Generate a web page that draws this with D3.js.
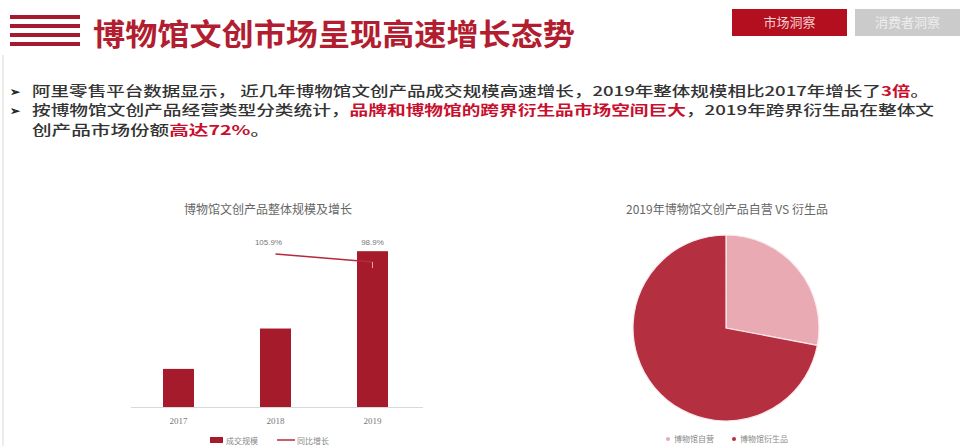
<!DOCTYPE html>
<html><head><meta charset="utf-8">
<script src="https://cdn.jsdelivr.net/npm/d3@7/dist/d3.min.js"></script>
<style>
html,body{margin:0;padding:0;background:#fff;}
svg{display:block;font-family:"Noto Sans CJK SC","Noto Sans",sans-serif;}
</style></head>
<body>
<svg id="c" width="960" height="446"></svg>
<script>
// ---- data ----
const pageTitle = "博物馆文创市场呈现高速增长态势";
const tabs = ["市场洞察", "消费者洞察"];
const bullet1 = [["阿里零售平台数据显示， 近几年博物馆文创产品成交规模高速增长，2019年整体规模相比2017年增长了", false], ["3倍", true], ["。", false]];
const bullet2 = [["按博物馆文创产品经营类型分类统计，", false], ["品牌和博物馆的跨界衍生品市场空间巨大", true], ["，2019年跨界衍生品在整体文", false]];
const bullet3 = [["创产品市场份额", false], ["高达72%", true], ["。", false]];

const barTitle = "博物馆文创产品整体规模及增长";
const years = ["2017", "2018", "2019"];
const scaleValues = [100, 206, 409];       // 成交规模 (index, estimated)
const growthValues = [null, 105.9, 98.9];  // 同比增长 %
const barLegend = ["成交规模", "同比增长"];

const pieTitle = "2019年博物馆文创产品自营 VS 衍生品";
const pieLabels = ["博物馆自营", "博物馆衍生品"];
const pieValues = [28, 72];

// ---- drawing ----
const svg = d3.select("#c");
const HL = "#c8102e", TXT = "#333333";

// faint left border
svg.append("line").attr("x1", 3).attr("x2", 3).attr("y1", 55).attr("y2", 446)
  .attr("stroke", "#e6e6e6").attr("stroke-width", 1.5);

// header stripes
[17, 26, 35, 44].forEach(y => svg.append("rect").attr("x", 10).attr("y", y - 2)
  .attr("width", 70).attr("height", 4).attr("fill", "#a51a2e"));
svg.append("text").attr("x", 93).attr("y", 45).text(pageTitle)
  .attr("font-size", 30).attr("font-weight", "bold").attr("fill", "#b21d30")
  .attr("textLength", 482).attr("lengthAdjust", "spacingAndGlyphs");

// tabs
const tabX = [732, 855], tabW = [115, 105], tabFill = ["#b40f1f", "#cbcbcb"];
tabs.forEach((t, i) => {
  svg.append("rect").attr("x", tabX[i]).attr("y", 9).attr("width", tabW[i]).attr("height", 27).attr("fill", tabFill[i]);
  svg.append("text").attr("x", tabX[i] + tabW[i] / 2).attr("y", 27).attr("text-anchor", "middle")
    .attr("font-size", 13).attr("fill", i === 0 ? "#f3d0d0" : "#eeeeee").text(t);
});

// bullets
function para(parts, x, y, len) {
  const t = svg.append("text").attr("x", x).attr("y", y).attr("font-size", 13.5).attr("fill", TXT)
    .attr("font-weight", 500);
  if (len) t.attr("textLength", len).attr("lengthAdjust", "spacingAndGlyphs");
  parts.forEach(([s, h]) => t.append("tspan").text(s)
    .attr("fill", h ? HL : TXT).attr("font-weight", h ? "bold" : 500));
}
[96, 115].forEach(y => svg.append("text").attr("x", 10).attr("y", y).attr("font-size", 12)
  .attr("font-weight", "bold").attr("fill", "#222").text("➢"));
para(bullet1, 32, 96, 897);
para(bullet2, 32, 115, 902);
para(bullet3, 32, 135, 238);

// ---- bar + line chart ----
svg.append("text").attr("x", 268).attr("y", 214).attr("text-anchor", "middle")
  .attr("font-size", 12).attr("fill", "#666").text(barTitle);

const x = d3.scalePoint().domain(years).range([130, 421]).padding(0.5);
const y = d3.scaleLinear().domain([0, 420]).range([407, 247]);
const yG = d3.scaleLinear().domain([-28, 140]).range([407, 215]);
const bw = 31;

svg.append("line").attr("x1", 131).attr("x2", 423).attr("y1", 407.5).attr("y2", 407.5)
  .attr("stroke", "#d9d9d9");

svg.selectAll(".bar").data(years).join("rect").attr("class", "bar")
  .attr("x", d => x(d) - bw / 2).attr("width", bw)
  .attr("y", (d, i) => y(scaleValues[i])).attr("height", (d, i) => y(0) - y(scaleValues[i]))
  .attr("fill", "#a61b2b");

svg.selectAll(".yr").data(years).join("text").attr("class", "yr")
  .attr("x", d => x(d)).attr("y", 424).attr("text-anchor", "middle")
  .attr("font-size", 9).attr("font-family", "'Liberation Serif',serif").attr("fill", "#777").text(d => d);

const gPts = years.map((d, i) => ({ d, v: growthValues[i] })).filter(p => p.v != null);
svg.append("path").datum(gPts)
  .attr("d", d3.line().x(p => x(p.d)).y(p => yG(p.v)))
  .attr("fill", "none").attr("stroke", "#b52a3c").attr("stroke-width", 1.5);
const last = gPts[gPts.length - 1];
svg.append("path").attr("d", `M${x(last.d)},${yG(last.v)}v6`).attr("stroke", "#e7a5ae").attr("stroke-width", 1);

svg.selectAll(".gl").data(gPts).join("text").attr("class", "gl")
  .attr("x", (p, i) => x(p.d) - (i === 0 ? 7 : 0)).attr("y", 245).attr("text-anchor", "middle")
  .attr("font-size", 8).attr("font-family", "'Liberation Sans',sans-serif").attr("fill", "#777")
  .text(p => p.v.toFixed(1) + "%");

// bar legend
svg.append("rect").attr("x", 210).attr("y", 437).attr("width", 13).attr("height", 6).attr("fill", "#a61b2b");
svg.append("text").attr("x", 226).attr("y", 443.5).attr("font-size", 8).attr("fill", "#888").text(barLegend[0]);
svg.append("line").attr("x1", 277).attr("x2", 295).attr("y1", 440).attr("y2", 440).attr("stroke", "#b52a3c").attr("stroke-width", 1.5);
svg.append("text").attr("x", 297).attr("y", 443.5).attr("font-size", 8).attr("fill", "#888").text(barLegend[1]);

// ---- pie ----
svg.append("text").attr("x", 727).attr("y", 214).attr("text-anchor", "middle")
  .attr("font-size", 12).attr("fill", "#666").text(pieTitle);
const pieColors = d3.scaleOrdinal().domain(pieLabels).range(["#e9aab4", "#b42f3f"]);
const arcs = d3.pie().sort(null)(pieValues);
const arc = d3.arc().innerRadius(0).outerRadius(93);
const pg = svg.append("g").attr("transform", "translate(726,328)");
pg.selectAll("path").data(arcs).join("path").attr("d", arc)
  .attr("fill", (d, i) => pieColors(pieLabels[i])).attr("stroke", "#fbe9ec").attr("stroke-width", 1.2);

const legX = [668, 734];
pieLabels.forEach((l, i) => {
  svg.append("circle").attr("cx", legX[i]).attr("cy", 439).attr("r", 2).attr("fill", pieColors(l));
  svg.append("text").attr("x", legX[i] + 6).attr("y", 442).attr("font-size", 8).attr("fill", "#888").text(l);
});
</script>
</body></html>
